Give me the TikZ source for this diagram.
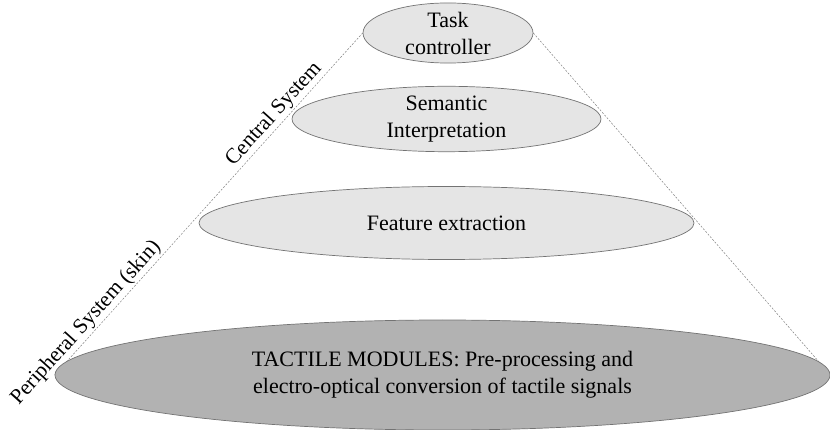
\documentclass[tikz,border=0pt]{standalone}
\usepackage{fontspec}
\setmainfont{Liberation Serif}
\usetikzlibrary{shapes.geometric}
\pgfdeclarelayer{behind}
\pgfsetlayers{behind,main}
\definecolor{layerfill}{gray}{0.90}
\definecolor{basefill}{gray}{0.70}
\definecolor{rimgray}{gray}{0.45}
\tikzset{
  layer/.style={ellipse, draw=rimgray, line width=0.7pt, fill=layerfill, inner sep=0pt,
    align=center, font=\fontsize{22}{27}\selectfont},
  guide/.style={draw=gray, line width=0.5pt, dash pattern=on 2pt off 1.5pt},
  side/.style={sloped, above, inner sep=1.5pt, font=\fontsize{21.5}{25}\selectfont}
}
\begin{document}
\begin{tikzpicture}[x=1pt,y=-1pt]
\useasboundingbox (0,0) rectangle (830,430);
% cone layers, top to bottom
\node[layer, minimum width=170, minimum height=45] (task) at (448,33) {Task\\controller};
\node[layer, minimum width=309, minimum height=62] (sem) at (446.5,119) {Semantic\\Interpretation};
\node[layer, minimum width=495, minimum height=73] (feat) at (446.5,223) {Feature extraction};
\node[layer, fill=basefill, minimum width=775, minimum height=110] (tact) at (442.5,375)
  {TACTILE MODULES: Pre-processing and\\electro-optical conversion of tactile signals};
% dashed cone outline behind the layers
\begin{pgfonlayer}{behind}
\path[guide] (tact.west) -- (task.west)
  node[side, pos=0.74] {Central System}
  node[side, pos=0.13] {Peripheral System (skin)};
\path[guide] (task.east) -- (tact.east);
\end{pgfonlayer}
\end{tikzpicture}
\end{document}
